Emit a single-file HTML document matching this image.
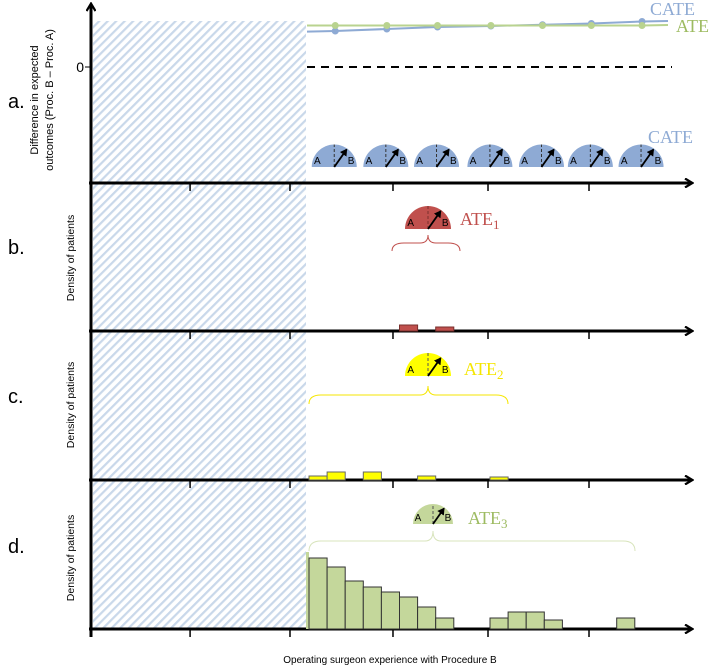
<!DOCTYPE html>
<html><head><meta charset="utf-8"><style>
html,body{margin:0;padding:0;background:#fff;}
svg{display:block;font-family:"Liberation Sans",sans-serif;}
.serif{font-family:"Liberation Serif",serif;}
</style></head><body>
<svg id="chart" width="709" height="666" viewBox="0 0 709 666" xmlns="http://www.w3.org/2000/svg">
<defs>
<pattern id="hatch" width="6" height="6" patternUnits="userSpaceOnUse" patternTransform="rotate(45)">
<rect width="6" height="6" fill="#fff"/><rect width="2.2" height="6" fill="#c9d8ea"/></pattern>
<marker id="arr" markerWidth="10" markerHeight="10" refX="8" refY="5" orient="auto" markerUnits="userSpaceOnUse">
<path d="M1,0.5 L8.5,5 L1,9.5" fill="none" stroke="#000" stroke-width="2.2"/></marker>
<marker id="arrS" markerWidth="8" markerHeight="8" refX="6" refY="4" orient="auto" markerUnits="userSpaceOnUse">
<path d="M0,0 L7,4 L0,8 z" fill="#000"/></marker>
</defs>
<rect x="93" y="21" width="213" height="608" fill="url(#hatch)"/>
<g id="axes"></g>
<g id="marks"></g>
<text x="8" y="108" font-size="20">a.</text>
<text x="8" y="254" font-size="20">b.</text>
<text x="8" y="403" font-size="20">c.</text>
<text x="8" y="553" font-size="20">d.</text>
<text transform="translate(38,100) rotate(-90)" text-anchor="middle" font-size="11"><tspan x="0" dy="0">Difference in expected</tspan><tspan x="0" dy="15">outcomes (Proc. B – Proc. A)</tspan></text>
<text transform="translate(74,258) rotate(-90)" text-anchor="middle" font-size="10.5">Density of patients</text>
<text transform="translate(74,405) rotate(-90)" text-anchor="middle" font-size="10.5">Density of patients</text>
<text transform="translate(74,558) rotate(-90)" text-anchor="middle" font-size="10.5">Density of patients</text>
<text x="390" y="663" text-anchor="middle" font-size="10">Operating surgeon experience with Procedure B</text>
<text x="84" y="72" text-anchor="end" font-size="14">0</text>
<line x1="85" y1="67" x2="91" y2="67" stroke="#000" stroke-width="1"/>
<line x1="307" y1="67" x2="672" y2="67" stroke="#000" stroke-width="2" stroke-dasharray="8,6"/>
<text class="serif" x="650" y="15" font-size="18" fill="#8eaad4">CATE</text>
<text class="serif" x="676" y="32" font-size="18" fill="#9dbb61">ATE</text>
<text class="serif" x="648" y="143" font-size="18" fill="#8eaad4">CATE</text>
<text class="serif" x="460" y="225" font-size="18" fill="#c0504d">ATE<tspan font-size="13" dy="4">1</tspan></text>
<text class="serif" x="464" y="375" font-size="18" fill="#f5e600">ATE<tspan font-size="13" dy="4">2</tspan></text>
<text class="serif" x="468" y="524" font-size="18" fill="#9dbb61">ATE<tspan font-size="13" dy="4">3</tspan></text>
</svg>
<script>
// data
const expBins = [0,1,2,3,4,5,6,7,8,9,10,11,12,13,14,15,16,17];
const densB = [0,0,0,0,0,6,0,4,0,0,0,0,0,0,0,0,0,0];
const densC = [4,8,0,8,0,0,4,0,0,0,3,0,0,0,0,0,0,0];
const densD = [71,62,48,42,37,32,22,11,0,0,11,17,17,9,0,0,0,11];
const pointX = [1.45,4.3,7.1,10.05,12.9,15.6,18.4];
const cateVals = [-1.1,-0.7,-0.3,-0.1,0.15,0.4,0.8];
const ateVals = [0,0,0,0,0,0,0];
const tickX = [-6.57,-1.05,4.64,9.89,15.47];

const ns="http://www.w3.org/2000/svg";
const X0=309, BW=18.1;
function xs(v){return X0+v*BW;}
function ysA(v){return 25.5-v*5;}
function mk(tag,attrs,parent){const e=document.createElementNS(ns,tag);for(const k in attrs)e.setAttribute(k,attrs[k]);parent.appendChild(e);return e;}
const axes=document.getElementById('axes'), marks=document.getElementById('marks');

const baselines=[183,331,480,629];
const yax=mk('line',{x1:91,y1:637,x2:91,y2:4,stroke:'#000','stroke-width':3,'marker-end':'url(#arr)'},axes);


baselines.forEach((b,i)=>{
  const l=mk('line',{x1:89,y1:b,x2:692,y2:b,stroke:'#000','stroke-width':3,'marker-end':'url(#arr)'},axes);
  
  
  tickX.forEach(t=>{
    const tk=mk('line',{x1:xs(t),y1:b,x2:xs(t),y2:b+8,stroke:'#000','stroke-width':1.5},axes);
    
    
  });
});

function bars(arr,base,scale,fill,stroke,name){
  arr.forEach((v,i)=>{
    if(!v)return;
    const r=mk('rect',{x:xs(expBins[i]),y:base-v*scale,width:BW,height:v*scale,fill:fill,stroke:stroke,'stroke-width':1},marks);
    
    
  });
}
bars(densB,331,1,'#c0504d','#7a2f2d','bar-ate1');
bars(densC,480,1,'#ffff00','#666','bar-ate2');
const first=mk('rect',{x:306,y:552,width:3,height:77,fill:'#c4d79b'},marks);


bars(densD,629,1,'#c4d79b','#333','bar-ate3');

function line(vals,color,name){
  let d='M307,'+ysA(vals[0]+(vals[0]-vals[1])*0.3)+' ';
  pointX.forEach((p,i)=>{d+='L'+xs(p)+','+ysA(vals[i])+' ';});
  d+='L668,'+ysA(vals[vals.length-1]+0.1);
  const pth=mk('path',{d:d,fill:'none',stroke:color,'stroke-width':2},marks);
  
  
  pointX.forEach((p,i)=>{
    const c=mk('circle',{cx:xs(p),cy:ysA(vals[i]),r:3.5,fill:color},marks);
    
    
  });
}
line(cateVals,'#8eaad4','cate');
line(ateVals,'#b9d38f','ate');

function gauge(cx,cy,r,fill,name,dash){
  const g=mk('g',{},marks);
  
  
  mk('path',{d:`M${cx-r},${cy} A${r},${r} 0 0 1 ${cx+r},${cy} Z`,fill:fill},g);
  mk('line',{x1:cx,y1:cy,x2:cx,y2:cy-r,stroke:dash,'stroke-width':1,'stroke-dasharray':'3,2'},g);
  mk('line',{x1:cx,y1:cy,x2:cx+r*0.55,y2:cy-r*0.78,stroke:'#000','stroke-width':1.8,'marker-end':'url(#arrS)'},g);
  const a=mk('text',{x:cx-r*0.75,y:cy-3,'font-size':10,'text-anchor':'middle'},g);a.textContent='A';
  const b=mk('text',{x:cx+r*0.75,y:cy-3,'font-size':10,'text-anchor':'middle'},g);b.textContent='B';
}
pointX.forEach(p=>gauge(xs(p)-1,167,22.5,'#8eaad4','cate-gauge','#333'));
gauge(428,229,23,'#c0504d','ate1-gauge','#7a2f2d');
gauge(428,376,23,'#ffff00','ate2-gauge','#555');
gauge(433,524,20,'#c4d79b','ate3-gauge','#555');

function brace(x1,x2,cx,y,h,color,name){
  const d=`M${x1},${y+h} Q${x1},${y} ${x1+12},${y} L${cx-8},${y} Q${cx},${y} ${cx},${y-h} Q${cx},${y} ${cx+8},${y} L${x2-12},${y} Q${x2},${y} ${x2},${y+h}`;
  const p=mk('path',{d:d,fill:'none',stroke:color,'stroke-width':1},marks);
  
  
}
brace(392,460,428,243,8,'#c0504d','ate1-brace');
brace(309,508,428,395,9,'#f5e600','ate2-brace');
brace(309,635,433,541,10,'#d8e4bc','ate3-brace');
</script>
</body></html>
